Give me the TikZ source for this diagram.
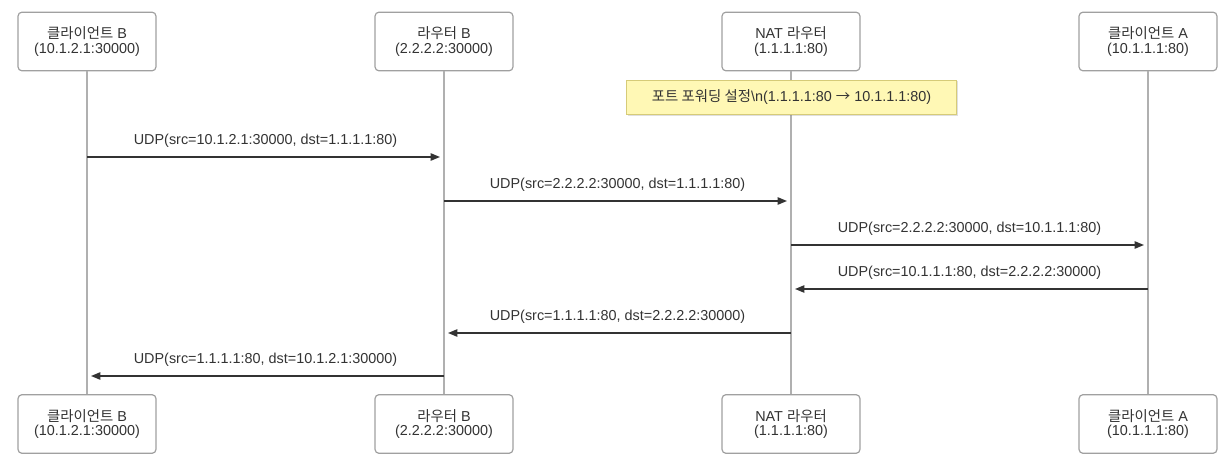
\documentclass[tikz,border=0pt]{standalone}
\usepackage{fontspec}
\setmainfont{Liberation Sans}
\newfontfamily\krfont{Noto Sans CJK KR}
\newcommand{\kr}[1]{{\krfont #1}}
\usepackage{xcolor}
\definecolor{boxline}{HTML}{A0A0A0}
\definecolor{lifeline}{HTML}{B0B0B0}
\definecolor{msgline}{HTML}{333333}
\definecolor{notefill}{HTML}{FFF8B5}
\definecolor{noteline}{HTML}{D6CB78}
\usetikzlibrary{arrows.meta, positioning, calc, shadows}

\begin{document}
\begin{tikzpicture}[
    x=0.75pt, y=-0.75pt,
    actor/.style={rectangle, draw=boxline, rounded corners=3pt, line width=0.9pt, fill=white, minimum width=103.5pt, minimum height=44pt, align=center, font=\fontsize{10.8}{10.8}\selectfont, text=black!80},
    note/.style={rectangle, draw=noteline, line width=0.6pt, fill=notefill, minimum width=247pt, minimum height=26pt, align=center, font=\fontsize{10.8}{11}\selectfont, text=black!80, drop shadow={shadow xshift=1pt, shadow yshift=-1pt, opacity=0.25}},
    life/.style={draw=lifeline, line width=1.1pt},
    msg/.style={-{Triangle[length=7pt, width=5.5pt]}, draw=msgline, line width=1.1pt, shorten >=3pt},
    msglabel/.style={font=\fontsize{10.8}{11}\selectfont, text=black!80, yshift=12pt}
]
    \useasboundingbox (0,0) rectangle (1230,463);

    % Participants (top)
    \node[actor] (cb) at (87,41.5) {\kr{클라이언트} B\\(10.1.2.1:30000)};
    \node[actor] (rb) at (444,41.5) {\kr{라우터} B\\(2.2.2.2:30000)};
    \node[actor] (nat) at (791,41.5) {NAT \kr{라우터}\\(1.1.1.1:80)};
    \node[actor] (ca) at (1148,41.5) {\kr{클라이언트} A\\(10.1.1.1:80)};

    % Participants (bottom)
    \node[actor] (cb2) at (87,424) {\kr{클라이언트} B\\(10.1.2.1:30000)};
    \node[actor] (rb2) at (444,424) {\kr{라우터} B\\(2.2.2.2:30000)};
    \node[actor] (nat2) at (791,424) {NAT \kr{라우터}\\(1.1.1.1:80)};
    \node[actor] (ca2) at (1148,424) {\kr{클라이언트} A\\(10.1.1.1:80)};

    % Lifelines
    \foreach \p in {cb, rb, nat, ca}
        \draw[life] (\p.south) -- (\p2.north);

    % Note
    \node[note] (fwd) at (791.5,97.5) {\kr{포트 포워딩 설정}\textbackslash n(1.1.1.1:80 \kr{→} 10.1.1.1:80)};

    % Messages
    \foreach \src/\dst/\yy/\lbl in {
        cb/rb/157/{UDP(src=10.1.2.1:30000, dst=1.1.1.1:80)},
        rb/nat/201/{UDP(src=2.2.2.2:30000, dst=1.1.1.1:80)},
        nat/ca/245/{UDP(src=2.2.2.2:30000, dst=10.1.1.1:80)},
        ca/nat/289/{UDP(src=10.1.1.1:80, dst=2.2.2.2:30000)},
        nat/rb/333/{UDP(src=1.1.1.1:80, dst=2.2.2.2:30000)},
        rb/cb/376/{UDP(src=1.1.1.1:80, dst=10.1.2.1:30000)}}
        \draw[msg] (\src |- 0,\yy) -- node[msglabel] {\lbl} (\dst |- 0,\yy);
\end{tikzpicture}
\end{document}
